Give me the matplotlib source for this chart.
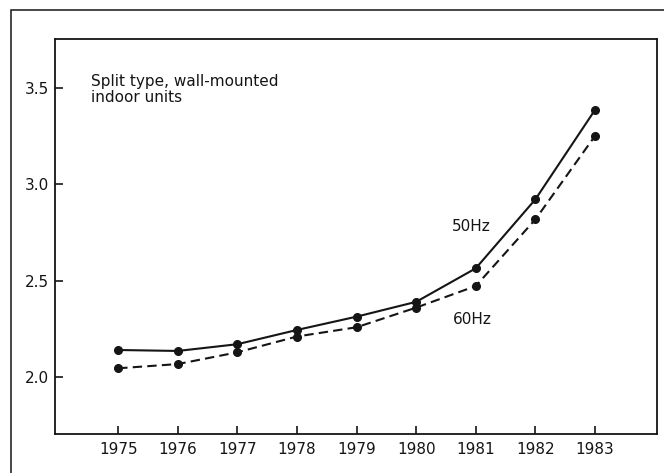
import matplotlib
matplotlib.use("Agg")
import matplotlib.pyplot as plt
from matplotlib.patches import Rectangle

plt.rcParams['font.family'] = ['DejaVu Sans']

# data
years = [1975, 1976, 1977, 1978, 1979, 1980, 1981, 1982, 1983]
hz50 = [2.14, 2.135, 2.17, 2.244, 2.313, 2.39, 2.564, 2.922, 3.386]
hz60 = [2.045, 2.067, 2.128, 2.21, 2.258, 2.36, 2.472, 2.818, 3.251]
yticks = [2.0, 2.5, 3.0, 3.5]
ytick_labels = ['2.0', '2.5', '3.0', '3.5']
title_text = "Split type, wall-mounted\nindoor units"

ink = '#151515'

fig = plt.figure(figsize=(6.64, 4.73), dpi=100)
ax = fig.add_axes([55 / 664, 39 / 473, 602 / 664, 395 / 473])

# outer frame of the printed figure (runs off the right and bottom edges)
fig.patches.append(Rectangle((11 / 664, -0.05), 1.2, (473 - 10) / 473 + 0.05,
                             transform=fig.transFigure, fill=False,
                             edgecolor=ink, linewidth=1.1))

ax.plot(years, hz50, '-', color=ink, linewidth=1.5, marker='o', markersize=5.5)
ax.plot(years, hz60, '--', color=ink, linewidth=1.5, marker='o', markersize=5.5,
        dashes=(4.5, 2.5))

ax.set_xlim(1973.94, 1984.04)
ax.set_ylim(1.704, 3.754)
ax.set_xticks(years)
ax.set_xticklabels([str(y) for y in years])
ax.set_yticks(yticks)
ax.set_yticklabels(ytick_labels)

ax.tick_params(direction='in', length=6, width=1.2, colors=ink, labelsize=11)
ax.tick_params(axis='x', pad=6)
ax.tick_params(axis='y', pad=4)
for s in ax.spines.values():
    s.set_linewidth(1.3)
    s.set_color(ink)

ax.text(1974.55, 3.57, title_text, fontsize=11, color=ink, va='top', ha='left',
        linespacing=1.05)
ax.text(1980.6, 2.78, '50Hz', fontsize=11, color=ink, va='center', ha='left')
ax.text(1980.62, 2.3, '60Hz', fontsize=11, color=ink, va='center', ha='left')

fig.savefig('out.png', dpi=100)
